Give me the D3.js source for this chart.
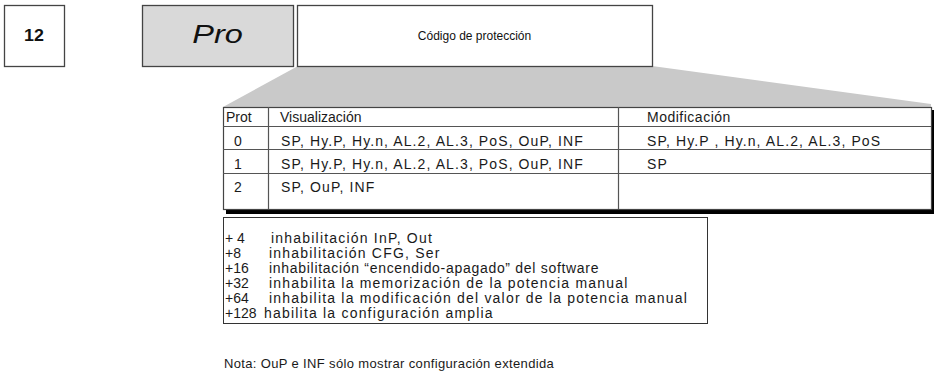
<!DOCTYPE html>
<html><head><meta charset="utf-8">
<script src="https://cdn.jsdelivr.net/npm/d3@7"></script>
<style>
html,body{margin:0;padding:0;background:#fff;}
svg{display:block;font-family:"Liberation Sans",Arial,Helvetica,sans-serif;}
</style></head>
<body><svg id="c" width="934" height="383"></svg>
<script>
// ---- data ----
const stepNumber = "12";
const paramName = "Pro";
const paramTitle = "Código de protección";
const tableHeader = ["Prot", "Visualización", "Modificación"];
const protCodes = ["0", "1", "2"];
const visualizacion = [
  "SP, Hy.P, Hy.n, AL.2, AL.3, PoS, OuP, INF",
  "SP, Hy.P, Hy.n, AL.2, AL.3, PoS, OuP, INF",
  "SP, OuP, INF"
];
const modificacion = [
  "SP, Hy.P , Hy.n, AL.2, AL.3, PoS",
  "SP",
  ""
];
const addCodes = ["+ 4", "+8", "+16", "+32", "+64", "+128"];
const addTexts = [
  "inhabilitación InP, Out",
  "inhabilitación CFG, Ser",
  "inhabilitación \u201cencendido-apagado\u201d del software",
  "inhabilita la memorización de la potencia manual",
  "inhabilita la modificación del valor de la potencia manual",
  "habilita la configuración amplia"
];
const nota = "Nota: OuP e INF sólo mostrar configuración extendida";

// ---- drawing ----
const svg = d3.select("#c");
const ink = "#1a1a1a";
const lineCol = "#555";

// top boxes
const topY = 5, topH = 61;
const boxes = [
  {x0: 4, x1: 64, fill: "#fff", text: stepNumber, size: 17, weight: "bold", style: "normal", sx: 1.05},
  {x0: 142, x1: 293, fill: "#d9d9d9", text: paramName, size: 25, weight: "normal", style: "italic", sx: 1.3},
  {x0: 297, x1: 652, fill: "#fff", text: paramTitle, size: 12, weight: "normal", style: "normal", sx: 1}
];

// table geometry
const tx0 = 223, tx1 = 931, ty0 = 107;
const rowEdges = [107, 126, 149, 173, 209];
const colEdges = [223, 268, 618, 931];

// zoom trapezoid
svg.append("polygon")
  .attr("points", [[298, 66], [652, 66], [931, 104], [931, 107], [tx0, ty0]].map(p => p.join(",")).join(" "))
  .attr("fill", "#c9c9c9");

boxes.forEach(b => {
  svg.append("rect").attr("x", b.x0 + 0.5).attr("y", topY + 0.5)
    .attr("width", b.x1 - b.x0).attr("height", topH)
    .attr("fill", b.fill).attr("stroke", "#444").attr("stroke-width", 1.3);
  const cx = (b.x0 + b.x1) / 2, cy = topY + topH / 2 + 1;
  svg.append("text")
    .attr("transform", `translate(${cx},${cy}) scale(${b.sx},1)`)
    .attr("text-anchor", "middle").attr("dominant-baseline", "middle")
    .style("font-size", b.size + "px").style("font-weight", b.weight).style("font-style", b.style)
    .attr("fill", "#111").text(b.text);
});

// shadow
const tBottom = rowEdges[rowEdges.length - 1];
svg.append("rect").attr("x", tx0 + 3).attr("y", ty0 + 3)
  .attr("width", tx1 - tx0 + 1).attr("height", tBottom - ty0 + 2)
  .attr("fill", "#000");
// table background
svg.append("rect").attr("x", tx0 + 0.5).attr("y", ty0 + 0.5)
  .attr("width", tx1 - tx0).attr("height", tBottom - ty0)
  .attr("fill", "#fff").attr("stroke", "#444").attr("stroke-width", 1.2);

rowEdges.slice(1, -1).forEach(y => {
  svg.append("line").attr("x1", tx0).attr("x2", tx1).attr("y1", y + 0.5).attr("y2", y + 0.5)
    .attr("stroke", lineCol).attr("stroke-width", 1.2);
});
colEdges.slice(1, -1).forEach(x => {
  svg.append("line").attr("x1", x + 0.5).attr("x2", x + 0.5).attr("y1", ty0).attr("y2", tBottom)
    .attr("stroke", lineCol).attr("stroke-width", 1.2);
});

const fs = "14px";
// header
const headX = [226, 280, 647];
tableHeader.forEach((h, i) => {
  svg.append("text").attr("x", headX[i]).attr("y", 122).style("font-size", fs)
    .style("letter-spacing", i === 2 ? "0.5px" : "0px").attr("fill", ink).text(h);
});
const rowBase = [145.5, 169, 192];
protCodes.forEach((p, i) => {
  svg.append("text").attr("x", 238).attr("y", rowBase[i]).attr("text-anchor", "middle")
    .style("font-size", fs).attr("fill", ink).text(p);
  svg.append("text").attr("x", 281).attr("y", rowBase[i]).style("font-size", fs)
    .style("letter-spacing", "1.1px").attr("fill", ink).text(visualizacion[i]);
  svg.append("text").attr("x", 647).attr("y", rowBase[i]).style("font-size", fs)
    .style("letter-spacing", "1.1px").attr("fill", ink).text(modificacion[i]);
});

// notes box
const nb = {x0: 223, x1: 707, y0: 217, y1: 323};
svg.append("rect").attr("x", nb.x0 + 0.5).attr("y", nb.y0 + 0.5)
  .attr("width", nb.x1 - nb.x0).attr("height", nb.y1 - nb.y0)
  .attr("fill", "#fff").attr("stroke", "#333").attr("stroke-width", 1);
const ny = d3.scalePoint().domain(d3.range(addCodes.length)).range([243, 318]);
addCodes.forEach((c, i) => {
  svg.append("text").attr("x", 225).attr("y", ny(i)).style("font-size", fs).attr("fill", ink).text(c);
  svg.append("text").attr("x", i === 0 ? 271 : (i === 5 ? 264 : 269)).attr("y", ny(i))
    .style("font-size", fs).style("letter-spacing", i === 2 ? "0.7px" : "1.2px").attr("fill", ink).text(addTexts[i]);
});

svg.append("text").attr("x", 224).attr("y", 368).style("font-size", "13px")
  .style("letter-spacing", "0.35px").attr("fill", ink).text(nota);
</script></body></html>
